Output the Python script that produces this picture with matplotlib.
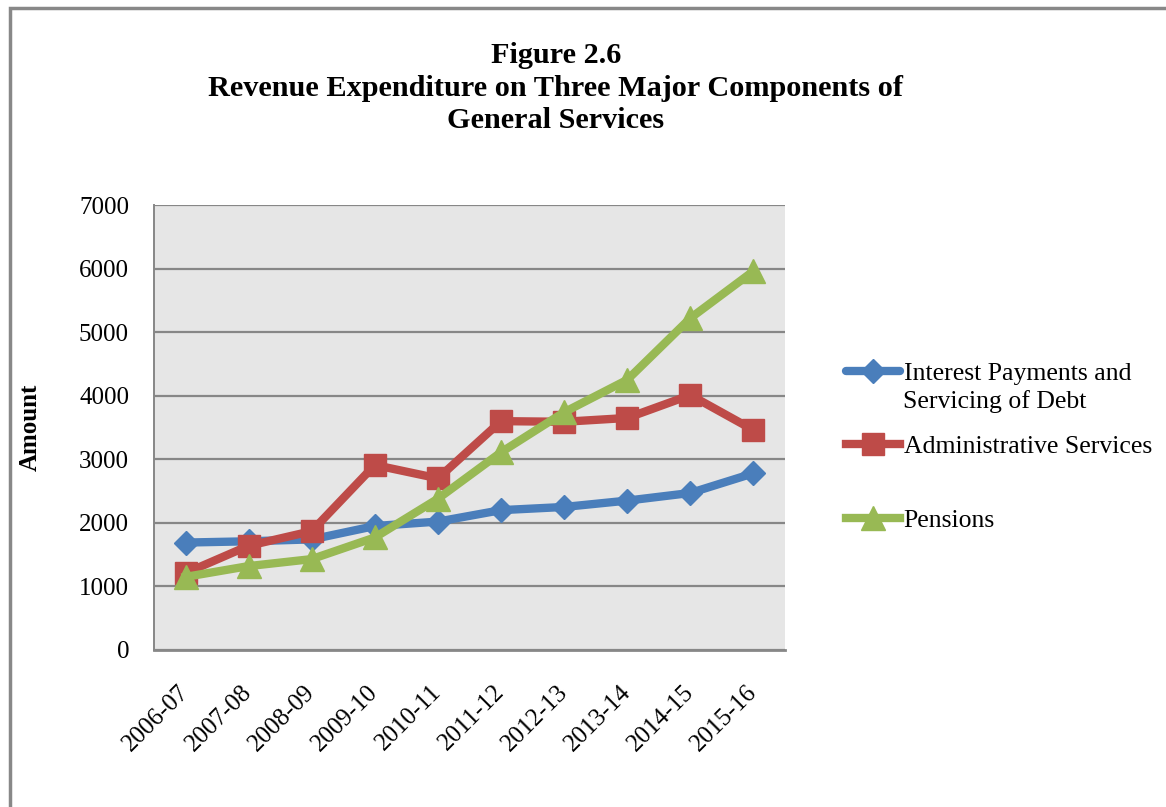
import numpy as np
import matplotlib.pyplot as plt
from matplotlib.patches import Rectangle

# data
years = ['2006-07', '2007-08', '2008-09', '2009-10', '2010-11',
         '2011-12', '2012-13', '2013-14', '2014-15', '2015-16']
interest = [1690, 1710, 1740, 1950, 2020, 2200, 2250, 2350, 2470, 2780]
admin = [1210, 1640, 1870, 2910, 2700, 3600, 3590, 3650, 4010, 3460]
pensions = [1150, 1320, 1430, 1770, 2380, 3110, 3740, 4250, 5220, 5960]

plt.rcParams['font.family'] = ['Liberation Serif', 'DejaVu Serif']

fig = plt.figure(figsize=(11.66, 8.07), dpi=100)
ax = fig.add_axes([154/1166, 1-650/807, 631/1166, 445/807])

x = np.arange(len(years))
h1, = ax.plot(x, interest, color='#4A7EBB', lw=6, marker='D', ms=12,
              solid_capstyle='round')
h2, = ax.plot(x, admin, color='#BE4B48', lw=6, marker='s', ms=16)
h3, = ax.plot(x, pensions, color='#98B954', lw=6, marker='^', ms=17)

ax.set_facecolor('#E6E6E6')
ax.set_xlim(-0.5, len(years) - 0.5)
ax.set_ylim(0, 7000)
ax.set_yticks(range(0, 7001, 1000))
ax.yaxis.grid(True, color='#878787', lw=1.6)
ax.set_axisbelow(True)
for s in ['top', 'right']:
    ax.spines[s].set_visible(False)
ax.spines['left'].set_color('#878787')
ax.spines['left'].set_linewidth(1.4)
ax.spines['bottom'].set_color('#878787')
ax.spines['bottom'].set_linewidth(2)
ax.tick_params(length=0, labelsize=18)
ax.tick_params(axis='y', pad=18)
ax.tick_params(axis='x', pad=28)
ax.set_xticks(x)
ax.set_xticklabels(years, rotation=45, ha='right', va='center',
                   rotation_mode='anchor')
ax.set_ylabel('Amount', fontsize=18, fontweight='bold')
ax.yaxis.set_label_coords((42 - 154) / 631, 0.5)

fig.text(556/1166, 1-88/807, 'Figure 2.6\nRevenue Expenditure on Three Major Components of\nGeneral Services',
         ha='center', va='center', fontsize=21.8, fontweight='bold', linespacing=1.27)

leg = fig.legend([h1, h2, h3],
                 ['Interest Payments and', 'Administrative Services', 'Pensions'],
                 loc='upper left', bbox_to_anchor=(833/1166, 1-349/807),
                 frameon=False, fontsize=18.5, handlelength=2.1,
                 labelspacing=1.97, handletextpad=0.15, borderpad=0)
fig.text(903/1166, 1-402/807, 'Servicing of Debt', fontsize=18.5, va='center')

# outer frame of the chart
fig.patches.append(Rectangle((10/1166, -0.1), 1.2, 1 - 8/807 + 0.1,
                             transform=fig.transFigure, fill=False,
                             edgecolor='#888888', lw=2.5))

fig.savefig('out.png', dpi=100)
